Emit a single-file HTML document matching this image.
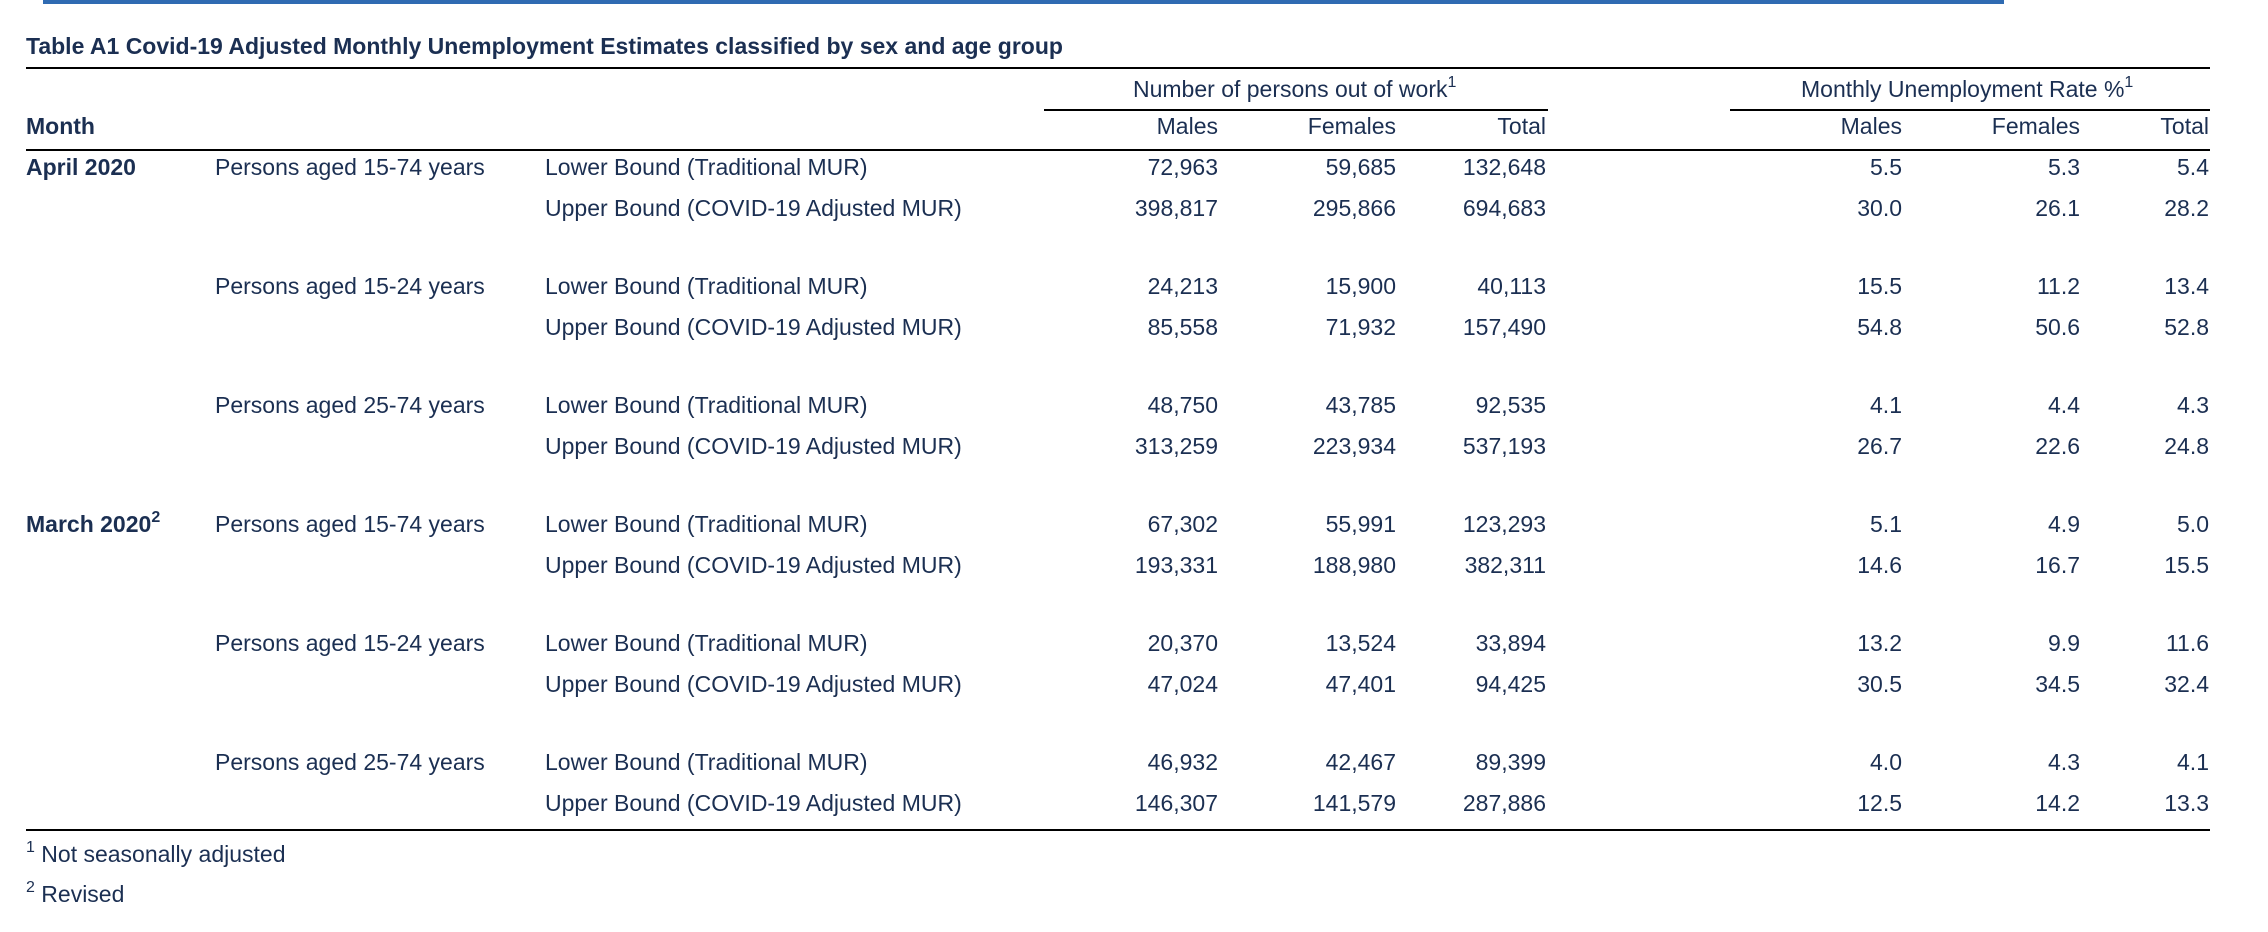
<!DOCTYPE html>
<html><head><meta charset="utf-8"><style>
html,body{margin:0;padding:0;background:#fff;width:2268px;height:932px;overflow:hidden;position:relative}
body{font-family:"Liberation Sans",Arial,sans-serif;color:#1b2f52;font-size:23px}
.t{position:absolute;line-height:23px;white-space:nowrap}
.r{position:absolute;line-height:23px;white-space:nowrap;text-align:right}
.b{font-weight:bold}
.line{position:absolute;background:#000;height:2px}
sup{font-size:16px;line-height:0;vertical-align:10px}
</style></head><body>
<div style="position:absolute;left:43px;top:0;width:1961px;height:4px;background:#2f6bb2"></div>
<div class="t b" style="left:26px;top:35px">Table A1 Covid-19 Adjusted Monthly Unemployment Estimates classified by sex and age group</div>
<div class="line" style="left:26px;top:67px;width:2184px"></div>
<div class="t" style="left:1133px;top:78px">Number of persons out of work<sup>1</sup></div>
<div class="t" style="left:1801px;top:78px">Monthly Unemployment Rate %<sup>1</sup></div>
<div class="line" style="left:1044px;top:109px;width:504px"></div>
<div class="line" style="left:1730px;top:109px;width:480px"></div>
<div class="t b" style="left:26px;top:115px">Month</div>
<div class="r" style="right:1050px;top:115px">Males</div>
<div class="r" style="right:872px;top:115px">Females</div>
<div class="r" style="right:722px;top:115px">Total</div>
<div class="r" style="right:366px;top:115px">Males</div>
<div class="r" style="right:188px;top:115px">Females</div>
<div class="r" style="right:59px;top:115px">Total</div>
<div class="line" style="left:26px;top:149px;width:2184px"></div>
<div class="line" style="left:26px;top:829px;width:2184px"></div>

<div id="rows"></div>
<div class="t b" style="left:26px;top:156px">April 2020</div>
<div class="t b" style="left:26px;top:513px">March 2020<sup>2</sup></div>

<div class="t" style="left:215px;top:156px">Persons aged 15-74 years</div>
<div class="t" style="left:215px;top:275px">Persons aged 15-24 years</div>
<div class="t" style="left:215px;top:394px">Persons aged 25-74 years</div>
<div class="t" style="left:215px;top:513px">Persons aged 15-74 years</div>
<div class="t" style="left:215px;top:632px">Persons aged 15-24 years</div>
<div class="t" style="left:215px;top:751px">Persons aged 25-74 years</div>

<div class="t" style="left:545px;top:156px">Lower Bound (Traditional MUR)</div>
<div class="t" style="left:545px;top:197px">Upper Bound (COVID-19 Adjusted MUR)</div>
<div class="t" style="left:545px;top:275px">Lower Bound (Traditional MUR)</div>
<div class="t" style="left:545px;top:316px">Upper Bound (COVID-19 Adjusted MUR)</div>
<div class="t" style="left:545px;top:394px">Lower Bound (Traditional MUR)</div>
<div class="t" style="left:545px;top:435px">Upper Bound (COVID-19 Adjusted MUR)</div>
<div class="t" style="left:545px;top:513px">Lower Bound (Traditional MUR)</div>
<div class="t" style="left:545px;top:554px">Upper Bound (COVID-19 Adjusted MUR)</div>
<div class="t" style="left:545px;top:632px">Lower Bound (Traditional MUR)</div>
<div class="t" style="left:545px;top:673px">Upper Bound (COVID-19 Adjusted MUR)</div>
<div class="t" style="left:545px;top:751px">Lower Bound (Traditional MUR)</div>
<div class="t" style="left:545px;top:792px">Upper Bound (COVID-19 Adjusted MUR)</div>

<script>
var tops=[156,197,275,316,394,435,513,554,632,673,751,792];
var rights=[1050,872,722,366,188,59];
var d=[
["72,963","59,685","132,648","5.5","5.3","5.4"],
["398,817","295,866","694,683","30.0","26.1","28.2"],
["24,213","15,900","40,113","15.5","11.2","13.4"],
["85,558","71,932","157,490","54.8","50.6","52.8"],
["48,750","43,785","92,535","4.1","4.4","4.3"],
["313,259","223,934","537,193","26.7","22.6","24.8"],
["67,302","55,991","123,293","5.1","4.9","5.0"],
["193,331","188,980","382,311","14.6","16.7","15.5"],
["20,370","13,524","33,894","13.2","9.9","11.6"],
["47,024","47,401","94,425","30.5","34.5","32.4"],
["46,932","42,467","89,399","4.0","4.3","4.1"],
["146,307","141,579","287,886","12.5","14.2","13.3"]];
var h="";
for(var i=0;i<12;i++)for(var j=0;j<6;j++)h+='<div class="r" style="right:'+rights[j]+'px;top:'+tops[i]+'px">'+d[i][j]+'</div>';
document.getElementById("rows").innerHTML=h;
</script>

<div class="t" style="left:26px;top:843px"><sup>1</sup> Not seasonally adjusted</div>
<div class="t" style="left:26px;top:883px"><sup>2</sup> Revised</div>
</body></html>
